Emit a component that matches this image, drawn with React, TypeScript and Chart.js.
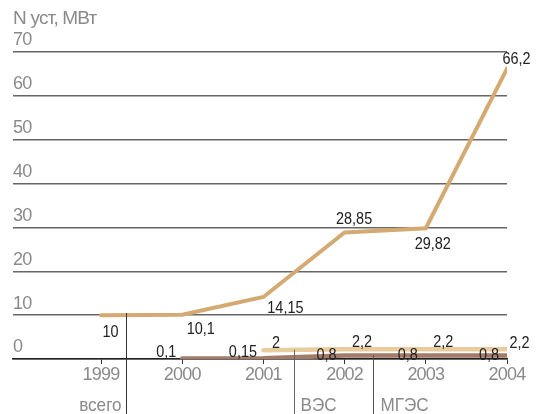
import { useEffect, useRef } from "react";
import { Chart, registerables } from "chart.js";

Chart.register(...registerables);

// ---- data ----
const years = [1999, 2000, 2001, 2002, 2003, 2004];
const totalValues = [10, 10.1, 14.15, 28.85, 29.82, 66.2];
const windYears = [2001, 2002, 2003, 2004];
const windValues = [2, 2.2, 2.2, 2.2];
const hydroYears = [2000, 2001, 2002, 2003, 2004];
const hydroValues = [0.1, 0.15, 0.8, 0.8, 0.8];
const yTickValues = [0, 10, 20, 30, 40, 50, 60, 70];
const yTitle = "N уст, МВт";
const seriesNames = ["всего", "ВЭС", "МГЭС"];

// ---- styles ----
const FONT = '"Liberation Sans", Arial, sans-serif';
const totalColor = "#d4aa72";
const windColor = "#e8cc9e";
const hydroColor = "#a37b68";
const greyText = "#8a8a8a";

// label center offsets (px) relative to each point, per dataset (total, wind, hydro)
const labelOffsets: number[][][] = [
  [[9.5, 15.5], [18.5, 13.5], [22, 10], [9.5, -14.5], [7, 15], [9.5, -11]],
  [[12.5, -8], [17.5, -8.5], [17.5, -8.5], [12.5, -7.5]],
  [[-16, -7.5], [-20.5, -7], [-18, -1.5], [-18, -1.5], [-18, -1.5]],
];

// pointer lines for series names: x in axis units, top in value units
const pointers = [
  { x: 1999.31, top: 10.5, name: seriesNames[0], align: "right", dx: -5, color: "#333" },
  { x: 2001.377, top: 2.1, name: seriesNames[1], align: "left", dx: 6, color: "#666" },
  { x: 2002.353, top: 0.9, name: seriesNames[2], align: "left", dx: 7, color: "#555" },
];

const fmt = (v: number) => String(v).replace(".", ",");

const toPoints = (xs: number[], ys: number[]) => xs.map((x, i) => ({ x, y: ys[i] }));

// draw condensed text (narrow face look)
function narrowText(
  ctx: CanvasRenderingContext2D,
  text: string,
  x: number,
  y: number,
  align: CanvasTextAlign,
  sx: number
) {
  ctx.save();
  ctx.translate(x, y);
  ctx.scale(sx, 1);
  ctx.textAlign = align;
  ctx.textBaseline = "alphabetic";
  ctx.fillText(text, 0, 0);
  ctx.restore();
}

const spacingPlugin = {
  id: "spacing",
  beforeDraw(chart: any) {
    (chart.ctx as any).letterSpacing = "-0.8px";
  },
};

const annotatePlugin = {
  id: "annotate",
  afterDatasetsDraw(chart: any) {
    const ctx = chart.ctx as CanvasRenderingContext2D;
    const xs = chart.scales.x;
    const ys = chart.scales.y;
    ctx.save();
    (ctx as any).letterSpacing = "0px";
    // pointer lines + names
    pointers.forEach((p) => {
      const px = Math.round(xs.getPixelForValue(p.x)) + 0.5;
      const top = ys.getPixelForValue(p.top);
      ctx.strokeStyle = p.color;
      ctx.lineWidth = 1;
      ctx.beginPath();
      ctx.moveTo(px, top);
      ctx.lineTo(px, chart.height);
      ctx.stroke();
      ctx.font = `19px ${FONT}`;
      ctx.fillStyle = greyText;
      narrowText(ctx, p.name, px + p.dx, 411, p.align as CanvasTextAlign, 0.9);
    });
    // value labels
    chart.data.datasets.forEach((ds: any, di: number) => {
      const offs = labelOffsets[di];
      ds.data.forEach((pt: any, i: number) => {
        const px = xs.getPixelForValue(pt.x);
        const py = ys.getPixelForValue(pt.y);
        const [dx, dy] = offs[i];
        ctx.font = `17px ${FONT}`;
        ctx.fillStyle = "#222";
        narrowText(ctx, fmt(pt.y), px + dx, py + dy + 0.358 * 17, "center", 0.85);
      });
    });
    ctx.restore();
  },
};

export default function App() {
  const ref = useRef<HTMLCanvasElement | null>(null);

  useEffect(() => {
    if (!ref.current) return;
    const chart = new Chart(ref.current, {
      type: "line",
      data: {
        datasets: [
          {
            label: seriesNames[0],
            data: toPoints(years, totalValues),
            borderColor: totalColor,
            borderWidth: 4,
            pointRadius: 0,
            borderCapStyle: "round",
            tension: 0,
          },
          {
            label: seriesNames[1],
            data: toPoints(windYears, windValues),
            borderColor: windColor,
            borderWidth: 4.5,
            pointRadius: 0,
            borderCapStyle: "round",
            tension: 0,
          },
          {
            label: seriesNames[2],
            data: toPoints(hydroYears, hydroValues),
            borderColor: hydroColor,
            borderWidth: 4.5,
            pointRadius: 0,
            borderCapStyle: "round",
            tension: 0,
          },
        ],
      },
      options: {
        responsive: false,
        animation: false,
        layout: { padding: { left: 13, right: 31, top: 0, bottom: 0 } },
        plugins: {
          legend: { display: false },
          tooltip: { enabled: false },
          title: {
            display: true,
            text: yTitle,
            align: "start",
            color: greyText,
            font: { family: FONT, size: 19, weight: "normal" },
            padding: { top: 7, bottom: 22.2 },
          },
        },
        scales: {
          x: {
            type: "linear",
            min: 1997.916,
            max: 2004,
            afterBuildTicks: (scale: any) => {
              scale.ticks = years.map((v) => ({ value: v }));
            },
            afterFit: (scale: any) => {
              scale.height = 55;
            },
            grid: {
              display: true,
              drawOnChartArea: false,
              drawTicks: true,
              tickLength: 5,
              color: "#333",
              lineWidth: 1,
            },
            border: { display: true, color: "#222", width: 1.5 },
            ticks: {
              autoSkip: false,
              maxRotation: 0,
              color: greyText,
              padding: 0,
              font: { family: FONT, size: 18 },
              callback: (v: any) => String(v),
            },
          },
          y: {
            min: 0,
            max: 70,
            afterBuildTicks: (scale: any) => {
              scale.ticks = yTickValues.map((v) => ({ value: v }));
            },
            afterFit: (scale: any) => {
              scale.width = 0;
            },
            grid: { color: "#666", lineWidth: 1.5, drawTicks: false },
            border: { display: false },
            ticks: {
              mirror: true,
              padding: 0,
              labelOffset: -11.5,
              color: greyText,
              font: { family: FONT, size: 18 },
            },
          },
        },
      },
      plugins: [spacingPlugin, annotatePlugin],
    } as any);
    return () => chart.destroy();
  }, []);

  return (
    <div style={{ position: "absolute", left: 0, top: 0, width: 538, height: 414 }}>
      <canvas ref={ref} width={538} height={414} />
    </div>
  );
}
